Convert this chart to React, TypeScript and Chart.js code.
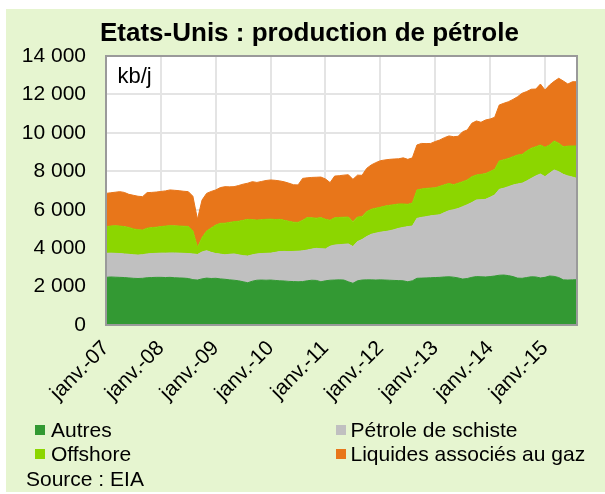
import React, { useEffect, useRef } from 'react';
import { Chart, registerables } from 'chart.js';

Chart.register(...registerables);

const FONT = "'Liberation Sans', Arial, sans-serif";

const tickLabels = ['janv.-07', 'janv.-08', 'janv.-09', 'janv.-10', 'janv.-11', 'janv.-12', 'janv.-13', 'janv.-14', 'janv.-15'];

const seriesNames = ['Autres', 'Pétrole de schiste', 'Offshore', 'Liquides associés au gaz'];
const seriesColors = ['#339933', '#c0c0c0', '#8cd600', '#e8761a'];

// monthly, Jan 2007 -> Aug 2015 (kb/j)
const autres = [
  2480, 2500, 2490, 2480, 2470, 2450, 2430, 2420, 2430, 2460, 2470, 2480,
  2480, 2470, 2480, 2460, 2450, 2440, 2420, 2360, 2340, 2400, 2440, 2420,
  2430, 2400, 2380, 2350, 2330, 2300, 2250, 2200, 2280, 2330, 2340, 2330,
  2340, 2320, 2300, 2290, 2270, 2260, 2250, 2260, 2300, 2330, 2320, 2250,
  2300, 2330, 2340, 2350, 2340, 2250, 2170, 2300, 2340, 2350, 2350, 2340,
  2350, 2340, 2330, 2320, 2310, 2300, 2250, 2300, 2430, 2440, 2450, 2460,
  2470, 2480, 2500, 2510, 2490, 2450, 2390, 2420, 2480, 2520, 2510, 2500,
  2520, 2550, 2590, 2600, 2570, 2520, 2440, 2430, 2470, 2510, 2500, 2450,
  2480, 2550, 2530, 2470, 2350, 2340, 2350, 2360,
];

const schiste = [
  1250, 1240, 1240, 1240, 1230, 1230, 1220, 1220, 1230, 1240, 1250, 1250,
  1260, 1270, 1270, 1290, 1290, 1290, 1300, 1340, 1330, 1400, 1430, 1360,
  1290, 1290, 1270, 1330, 1370, 1350, 1360, 1390, 1370, 1370, 1380, 1400,
  1400, 1460, 1520, 1540, 1550, 1570, 1590, 1600, 1600, 1620, 1670, 1720,
  1660, 1770, 1820, 1830, 1860, 1970, 1910, 2040, 2110, 2250, 2370, 2440,
  2480, 2520, 2570, 2640, 2720, 2780, 2870, 2850, 3120, 3160, 3190, 3220,
  3240, 3260, 3350, 3440, 3510, 3610, 3770, 3840, 3890, 3990, 4010, 4040,
  4130, 4220, 4470, 4520, 4630, 4760, 4900, 4950, 5030, 5120, 5260, 5410,
  5240, 5350, 5540, 5510, 5490, 5420, 5350, 5270,
];

const offshore = [
  1390, 1410, 1440, 1430, 1420, 1400, 1350, 1320, 1280, 1340, 1350, 1360,
  1380, 1410, 1420, 1410, 1410, 1410, 1410, 1200, 370, 750, 1020, 1270,
  1480, 1600, 1650, 1660, 1680, 1750, 1840, 1910, 1830, 1760, 1760, 1770,
  1770, 1710, 1680, 1620, 1580, 1520, 1500, 1590, 1690, 1630, 1570, 1620,
  1540, 1350, 1420, 1420, 1410, 1400, 1300, 1280, 1190, 1300, 1300, 1300,
  1300, 1330, 1330, 1300, 1270, 1220, 1160, 1200, 1480, 1480, 1470, 1450,
  1430, 1480, 1450, 1420, 1300, 1320, 1300, 1290, 1350, 1300, 1320, 1340,
  1340, 1330, 1480, 1480, 1470, 1480, 1510, 1500, 1550, 1570, 1520, 1510,
  1530, 1470, 1510, 1480, 1440, 1550, 1620, 1690,
];

const liquides = [
  1730, 1730, 1740, 1790, 1780, 1720, 1750, 1740, 1740, 1850, 1830, 1830,
  1830, 1830, 1860, 1850, 1840, 1820, 1810, 1800, 1460, 1950, 1960, 1900,
  1830, 1860, 1900, 1850, 1820, 1860, 1880, 1880, 1980, 1960, 1990, 2020,
  2040, 2040, 2000, 2000, 1980, 1950, 1950, 2180, 2070, 2100, 2130, 2110,
  2100, 1960, 2170, 2170, 2190, 2200, 2200, 2180, 2150, 2250, 2310, 2370,
  2420, 2400, 2390, 2380, 2350, 2400, 2340, 2350, 2340, 2370, 2330, 2320,
  2410, 2410, 2450, 2470, 2500, 2440, 2600, 2600, 2780, 2810, 2710, 2790,
  2730, 2710, 2910, 2940, 2950, 2980, 3030, 3180, 3100, 3070, 3000, 3170,
  2980, 3120, 3100, 3380, 3420, 3230, 3340, 3340,
];

const seriesData = [autres, schiste, offshore, liquides];

const fmt = (v: number) => String(v).replace(/\B(?=(\d{3})+(?!\d))/g, ' ');

const framePlugin = {
  id: 'frame',
  beforeDraw(chart: any) {
    const { ctx, chartArea: a } = chart;
    ctx.save();
    ctx.fillStyle = '#ffffff';
    ctx.fillRect(a.left, a.top, a.right - a.left, a.bottom - a.top);
    ctx.restore();
  },
  afterDatasetsDraw(chart: any) {
    const { ctx, chartArea: a } = chart;
    ctx.save();
    ctx.strokeStyle = '#9a9a9a';
    ctx.lineWidth = 2;
    ctx.strokeRect(a.left, a.top, a.right - a.left, a.bottom - a.top);
    ctx.restore();
  },
};

const textBase: React.CSSProperties = {
  position: 'absolute',
  fontFamily: FONT,
  lineHeight: 1,
  whiteSpace: 'nowrap',
  color: '#000',
};

export default function App() {
  const ref = useRef<HTMLCanvasElement>(null);

  useEffect(() => {
    const datasets = seriesData.map((arr, k) => ({
      label: seriesNames[k],
      data: arr.map((y, i) => ({ x: i, y })),
      backgroundColor: seriesColors[k],
      borderColor: seriesColors[k],
      borderWidth: 1,
      pointRadius: 0,
      tension: 0,
      fill: k === 0 ? 'origin' : '-1',
    }));
    const chart = new Chart(ref.current as HTMLCanvasElement, {
      type: 'line',
      data: { datasets: datasets as any },
      options: {
        animation: false,
        responsive: false,
        maintainAspectRatio: false,
        layout: { padding: { left: 0, right: 28, top: 47, bottom: 57 } },
        plugins: {
          legend: { display: false },
          title: { display: false },
          tooltip: { enabled: false },
        },
        scales: {
          x: {
            type: 'linear',
            min: 0,
            max: autres.length - 1,
            afterFit: (s: any) => {
              s.height = 110;
            },
            border: { display: false },
            grid: { color: '#e4e4e4', lineWidth: 2, drawTicks: false },
            ticks: {
              stepSize: 12,
              includeBounds: false,
              autoSkip: false,
              maxRotation: 45,
              minRotation: 45,
              padding: 11,
              color: '#000',
              font: { family: FONT, size: 21 },
              callback: (v: any) => tickLabels[Math.round(Number(v) / 12)] ?? '',
            },
          },
          y: {
            stacked: true,
            min: 0,
            max: 14000,
            afterFit: (s: any) => {
              s.width = 100;
            },
            border: { display: false },
            grid: { color: '#e4e4e4', lineWidth: 2, drawTicks: false },
            ticks: {
              stepSize: 2000,
              padding: 20,
              color: '#000',
              font: { family: FONT, size: 21 },
              callback: (v: any) => fmt(Number(v)),
            },
          },
        },
      },
      plugins: [framePlugin],
    });
    return () => chart.destroy();
  }, []);

  const legendItems = [
    { k: 0, sq: 29, tx: 45, top: 410.2 },
    { k: 1, sq: 330, tx: 344.5, top: 410.2 },
    { k: 2, sq: 29, tx: 45, top: 434.2 },
    { k: 3, sq: 330, tx: 344.5, top: 434.2 },
  ];

  return (
    <div
      style={{
        position: 'absolute',
        left: 6,
        top: 9,
        width: 599,
        height: 483,
        background: '#e6f5d0',
        overflow: 'hidden',
      }}
    >
      <canvas
        ref={ref}
        width={599}
        height={483}
        style={{ position: 'absolute', left: 0, top: 0, width: 599, height: 483 }}
      />
      <div style={{ ...textBase, left: 94, top: 9.5, fontSize: 26, fontWeight: 'bold' }}>
        Etats-Unis : production de pétrole
      </div>
      <div style={{ ...textBase, left: 111.5, top: 56, fontSize: 22 }}>kb/j</div>
      {legendItems.map(({ k, sq, tx, top }) => (
        <React.Fragment key={k}>
          <div
            style={{
              position: 'absolute',
              left: sq,
              top: top + 6,
              width: 10,
              height: 10,
              background: seriesColors[k],
            }}
          />
          <div style={{ ...textBase, left: tx, top, fontSize: 21 }}>{seriesNames[k]}</div>
        </React.Fragment>
      ))}
      <div style={{ ...textBase, left: 20, top: 459.2, fontSize: 21 }}>Source : EIA</div>
    </div>
  );
}
